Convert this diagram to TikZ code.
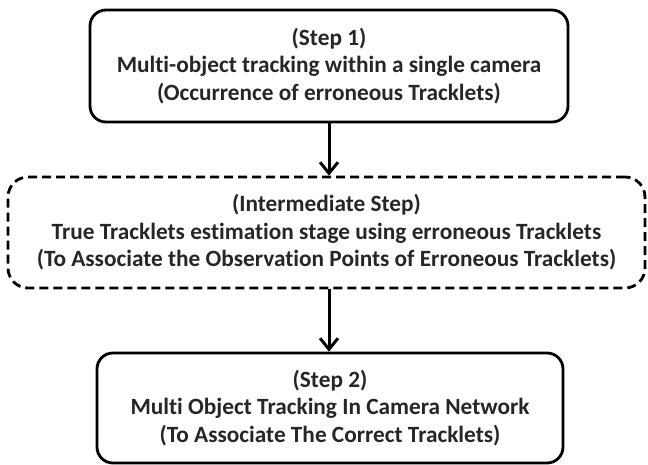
\documentclass[tikz,border=0pt]{standalone}
\usepackage{fontspec}
\setmainfont{Carlito}[Ligatures={NoCommon,NoContextual}]
\usetikzlibrary{arrows.meta}
\definecolor{txt}{HTML}{262626}
\tikzset{
  stepbox/.style={draw=black, line width=2.8pt, rounded corners=16pt, align=center,
    text=txt, font=\fontsize{23.3}{27.5}\selectfont\bfseries, inner sep=0pt},
  midbox/.style={stepbox, dash pattern=on 9pt off 5pt, rounded corners=20pt},
  flow/.style={draw=black, line width=3pt, -{Straight Barb[length=11pt,width=18pt,line width=3pt]}}
}
\begin{document}
\begin{tikzpicture}[x=1pt,y=-1pt]
\useasboundingbox (0,0) rectangle (648,465);
\node[stepbox, minimum width=478pt, minimum height=112pt] (s1) at (329,66)
  {(Step 1)\\Multi-object tracking within a single camera\\(Occurrence of erroneous Tracklets)};
\node[midbox, minimum width=637pt, minimum height=111pt] (mid) at (326.5,232.5)
  {(Intermediate Step)\\True Tracklets estimation stage using erroneous Tracklets\\(To Associate the Observation Points of Erroneous Tracklets)};
\node[stepbox, minimum width=466pt, minimum height=110pt] (s2) at (330,408)
  {(Step 2)\\Multi Object Tracking In Camera Network\\(To Associate The Correct Tracklets)};
\coordinate (ax) at (329,0);
\draw[flow] (s1.south -| ax) -- (mid.north -| ax);
\draw[flow] (mid.south -| ax) -- (s2.north -| ax);
\end{tikzpicture}
\end{document}
